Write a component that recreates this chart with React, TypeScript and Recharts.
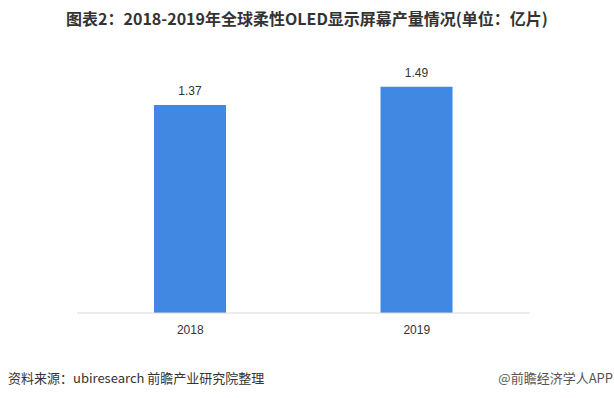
import React from "react";
import { BarChart, Bar, XAxis, YAxis, LabelList } from "recharts";

const years = ["2018", "2019"];
const output = [1.37, 1.49];
const data = years.map((y, i) => ({ year: y, value: output[i] }));

const cjk = '"Noto Sans CJK SC", "Microsoft YaHei", sans-serif';

export default function App() {
  return (
    <div style={{ position: "absolute", left: 0, top: 0, width: 614, height: 398, background: "#fff", overflow: "hidden" }}>
      <div style={{ position: "absolute", left: 0, top: 6, width: 614, textAlign: "center", fontFamily: cjk, fontWeight: 700, fontSize: 16, color: "#333", lineHeight: "24px" }}>
        图表2：2018-2019年全球柔性OLED显示屏幕产量情况(单位：亿片)
      </div>
      <BarChart width={614} height={398} data={data} margin={{ top: 70, left: 77, right: 84, bottom: 55 }} barCategoryGap="34%">
        <XAxis dataKey="year" height={30} axisLine={{ stroke: "#d9d9d9" }} tickLine={false} tick={{ fontSize: 12, fill: "#333", fontFamily: "Arial, 'Liberation Sans', sans-serif" }} dy={4} />
        <YAxis hide domain={[0, 1.6]} />
        <Bar dataKey="value" fill="#4188E3" isAnimationActive={false}>
          <LabelList dataKey="value" position="top" offset={10} style={{ fontSize: 12, fill: "#333", fontFamily: "Arial, 'Liberation Sans', sans-serif" }} />
        </Bar>
      </BarChart>
      <div style={{ position: "absolute", left: 8, top: 369, fontFamily: cjk, fontSize: 13, color: "#333", lineHeight: "18px", whiteSpace: "nowrap" }}>
        资料来源：ubiresearch 前瞻产业研究院整理
      </div>
      <div style={{ position: "absolute", right: 1, top: 369, fontFamily: cjk, fontSize: 13, color: "#555", lineHeight: "18px", whiteSpace: "nowrap" }}>
        @前瞻经济学人APP
      </div>
    </div>
  );
}
